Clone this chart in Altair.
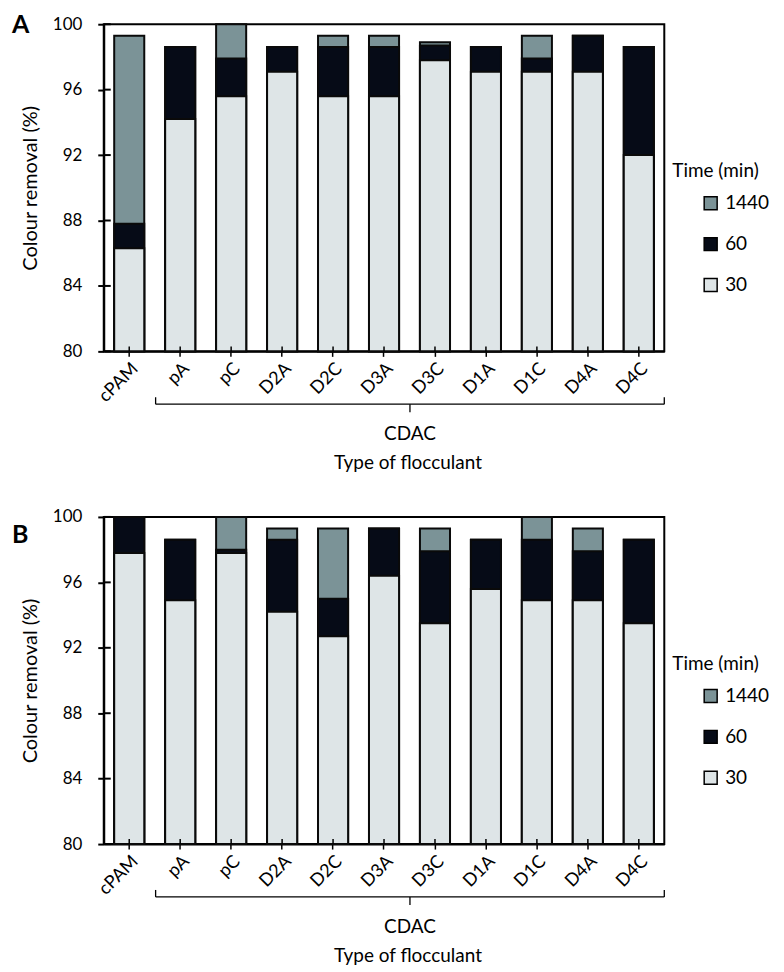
import altair as alt
import pandas as pd

categories = ["cPAM", "pA", "pC", "D2A", "D2C", "D3A", "D3C", "D1A", "D1C", "D4A", "D4C"]
times = ["1440", "60", "30"]
time_colors = ["#7b9397", "#060b17", "#dee5e7"]
y_ticks = [80, 84, 88, 92, 96, 100]

# Panel A: colour removal (%) reached after 30, 60 and 1440 min
a_30 = [86.3, 94.2, 95.6, 97.1, 95.6, 95.6, 97.8, 97.1, 97.1, 97.1, 92.0]
a_60 = [87.8, 98.6, 97.9, 98.6, 98.6, 98.6, 98.7, 98.6, 97.9, 99.3, 98.6]
a_1440 = [99.3, 98.6, 100.0, 98.6, 99.3, 99.3, 98.9, 98.6, 99.3, 99.3, 98.6]

# Panel B
b_30 = [97.8, 94.9, 97.8, 94.2, 92.7, 96.4, 93.5, 95.6, 94.9, 94.9, 93.5]
b_60 = [100.0, 98.6, 98.0, 98.6, 95.0, 99.3, 97.9, 98.6, 98.6, 97.9, 98.6]
b_1440 = [100.0, 98.6, 100.0, 99.3, 99.3, 99.3, 99.3, 98.6, 100.0, 99.3, 98.6]

W, H = 562, 328
FONT = "Lato"


def long_df(v30, v60, v1440):
    rows = []
    for t, vals in (("1440", v1440), ("60", v60), ("30", v30)):
        for c, v in zip(categories, vals):
            rows.append({"Flocculant": c, "Time": t, "Removal": v})
    return pd.DataFrame(rows)


def panel(v30, v60, v1440, letter, letter_y):
    df = long_df(v30, v60, v1440)
    base = alt.Chart(df)
    x_enc = alt.X(
        "Flocculant:N",
        sort=categories,
        scale=alt.Scale(paddingInner=0.41, paddingOuter=0.205),
        axis=alt.Axis(
            title=None, labelAngle=-45, labelFontSize=18, labelColor="black",
            tickSize=5, tickColor="black", tickWidth=1.5,
            domainColor="black", domainWidth=2, labelPadding=3,
        ),
    )
    y_enc = alt.Y(
        "Removal:Q",
        scale=alt.Scale(domain=[80, 100], zero=False, nice=False),
        axis=alt.Axis(
            title="Colour removal (%)", values=y_ticks, grid=False,
            labelFontSize=17, labelColor="black", labelPadding=16,
            tickSize=6, tickColor="black", tickWidth=2,
            domainColor="black", domainWidth=2,
            titleFontSize=20, titleFontWeight="normal", titleColor="black",
            titlePadding=12,
        ),
    )
    color_enc = alt.Color(
        "Time:N",
        scale=alt.Scale(domain=times, range=time_colors),
        legend=alt.Legend(
            title=None, orient="none", legendX=599, legendY=170,
            symbolType="square", symbolSize=169, symbolStrokeColor="black",
            symbolStrokeWidth=1.5, labelFontSize=19, labelColor="black",
            labelOffset=5, rowPadding=21, padding=0,
        ),
    )
    layers = []
    for t in times:
        layers.append(
            base.transform_filter(alt.datum.Time == t)
            .mark_bar(stroke="#0a0a0a", strokeWidth=2)
            .encode(x=x_enc, y=y_enc, y2=alt.Y2Datum(80), color=color_enc)
        )
    ytick_df = pd.DataFrame({"Removal": y_ticks})
    layers.append(
        alt.Chart(ytick_df).mark_rule(color="black", strokeWidth=2)
        .encode(y=y_enc, x=alt.value(0), x2=alt.value(7))
    )
    layers.append(
        base.transform_filter(alt.datum.Time == "30")
        .mark_rule(color="black", strokeWidth=1.5)
        .encode(x=x_enc, y=alt.value(H - 5), y2=alt.value(H))
    )
    one = alt.Chart(pd.DataFrame({"k": [0]}))
    layers += [
        one.mark_rule(color="black", strokeWidth=1.3).encode(
            x=alt.value(52), x2=alt.value(562), y=alt.value(381)),
        one.mark_rule(color="black", strokeWidth=1.3).encode(
            x=alt.value(52), y=alt.value(374), y2=alt.value(381)),
        one.mark_rule(color="black", strokeWidth=1.3).encode(
            x=alt.value(562), y=alt.value(374), y2=alt.value(381)),
        one.mark_rule(color="black", strokeWidth=1.3).encode(
            x=alt.value(307), y=alt.value(381), y2=alt.value(389)),
        one.mark_text(text="CDAC", fontSize=19, color="black", font=FONT).encode(
            x=alt.value(307), y=alt.value(411)),
        one.mark_text(text="Type of flocculant", fontSize=19, color="black", font=FONT).encode(
            x=alt.value(305), y=alt.value(440)),
        one.mark_text(text="Time (min)", fontSize=19, color="black", font=FONT,
                      align="left").encode(x=alt.value(570), y=alt.value(147)),
        one.mark_text(text=letter, fontSize=25, fontWeight="bold", color="black",
                      font=FONT, align="left", baseline="top").encode(
            x=alt.value(-92), y=alt.value(letter_y)),
    ]
    return alt.layer(*layers).properties(width=W, height=H)


pa = panel(a_30, a_60, a_1440, "A", -11)
pb = panel(b_30, b_60, b_1440, "B", 6)

chart = (
    alt.vconcat(pa, pb, spacing=166, bounds="flush")
    .resolve_scale(color="independent")
    .resolve_legend(color="independent")
    .properties(padding={"left": 3, "top": 3, "right": 5, "bottom": 5})
    .configure_view(stroke="black", strokeWidth=2)
    .configure_axis(labelFont=FONT, titleFont=FONT)
    .configure_legend(labelFont=FONT, titleFont=FONT)
)

chart.save("out.html", embed_options={"renderer": "svg", "actions": False})
